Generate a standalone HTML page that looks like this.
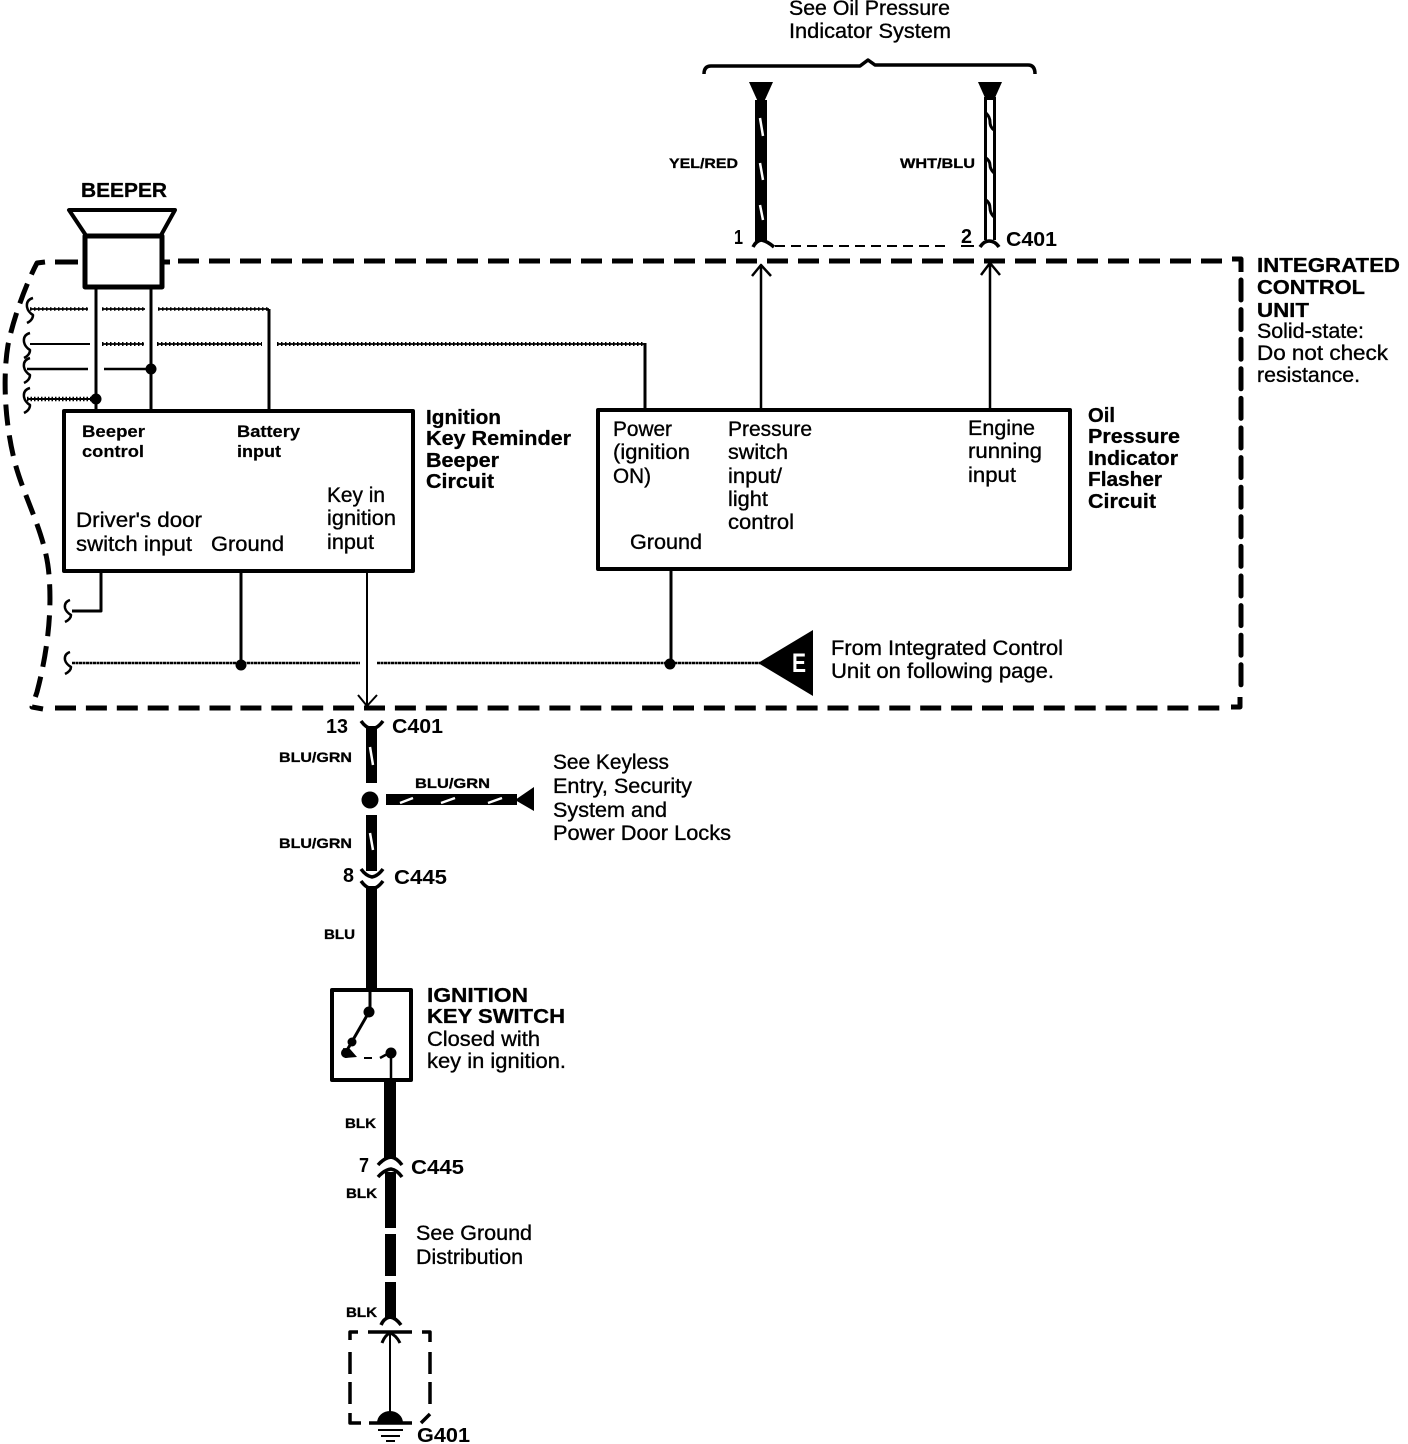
<!DOCTYPE html>
<html><head><meta charset="utf-8"><style>
html,body{margin:0;padding:0;background:#fff}
svg{display:block}
text{font-family:"Liberation Sans",sans-serif;fill:#000}
.n{font-size:21px;stroke:#000;stroke-width:.35}.b{font-size:20px;font-weight:bold;stroke:#000;stroke-width:.3}.s{font-size:17px;font-weight:bold;stroke:#000;stroke-width:.2}.w{font-size:14px;font-weight:bold;stroke:#000;stroke-width:.3}.c{font-size:20px;font-weight:bold}
</style></head><body>
<svg width="1408" height="1444" viewBox="0 0 1408 1444" xmlns="http://www.w3.org/2000/svg">
<rect width="1408" height="1444" fill="#fff"/>
<g fill="none" stroke="#000" stroke-linejoin="round">
<!-- dashed boundary -->
<path d="M178,261 H1232" stroke-width="5" stroke-dasharray="21 10"/>
<path d="M55,262 H78 M163,262 H170" stroke-width="5"/>
<path d="M1232,259 H1241 V272" stroke-width="5"/>
<path d="M1241,280 V690" stroke-width="5" stroke-linecap="round" stroke-dasharray="20 9.6"/>
<path d="M55,708 H1222" stroke-width="5" stroke-dasharray="21 9.9"/>
<path d="M1231,707 H1240 V697" stroke-width="5"/>
<path d="M45,262 L37,263 C28,280 14,315 8,345 C3,375 4,420 15,463 C25,500 46,535 49,575 C52,610 48,650 37,692 L32,707 L43,709" stroke-width="5" stroke-dasharray="21 10"/>
<!-- brace -->
<path d="M704,74 Q704,66 711,66 H860 L868,60 L875,65 H1028 Q1035,65 1035,74" stroke-width="3.5"/>
<!-- beeper -->
<path d="M69,210 H175 L160,237 H87 Z" stroke-width="4"/>
<rect x="85" y="236" width="77" height="51" fill="#fff" stroke-width="5"/>
<path d="M96,287 V411 M151,287 V411" stroke-width="3"/>
<path d="M269,309 V411 M645,343 V409" stroke-width="3"/>
<path d="M30,309 H88 M102,309 H145 M158,309 H269" stroke-width="1.8"/>
<path d="M30,309 H88 M102,309 H145 M158,309 H269" stroke-width="3.5" stroke-dasharray="1.5 2.5"/>
<path d="M30,344 H90" stroke-width="2"/>
<path d="M102,344 H144 M157,344 H262 M277,344 H645" stroke-width="1.8"/>
<path d="M102,344 H144 M157,344 H262 M277,344 H645" stroke-width="4" stroke-dasharray="1.5 2.5"/>
<path d="M27,369 H88 M104,369 H151" stroke-width="2.5"/>
<path d="M27,399 H96" stroke-width="2"/>
<path d="M27,399 H96" stroke-width="4.5" stroke-dasharray="1.5 2"/>
<path d="M33,298 Q26,300 27,307 Q28,312 33,315 Q33,320 27,323" stroke-width="2.5"/>
<path d="M30,333 Q23,335 24,342 Q25,347 30,350 Q30,355 24,358" stroke-width="2.5"/>
<path d="M30,358 Q23,360 24,367 Q25,372 30,375 Q30,380 24,383" stroke-width="2.5"/>
<path d="M30,388 Q23,390 24,397 Q25,402 30,405 Q30,410 24,413" stroke-width="2.5"/>
<!-- boxes -->
<rect x="64" y="411" width="349" height="160" stroke-width="4"/>
<rect x="598" y="410" width="472" height="159" stroke-width="4"/>
<!-- below left box -->
<path d="M101,571 V611 H72" stroke-width="3"/>
<path d="M241,571 V665" stroke-width="3"/>
<path d="M367,571 V705 M358,695 L367,706 L377,695" stroke-width="2"/>
<path d="M72,663 H360 M377,663 H760" stroke-width="2.5" stroke-dasharray="3 .5"/>
<path d="M671,569 V663" stroke-width="3"/>
<path d="M70,600 Q64,602 65,608 Q66,612 71,615 Q71,619 65,622" stroke-width="2.5"/>
<path d="M70,652 Q64,654 65,660 Q66,664 71,667 Q71,671 65,674" stroke-width="2.5"/>
<!-- up arrows -->
<path d="M761,408 V265 M752,276 L761,265 L771,276" stroke-width="2.5"/>
<path d="M990,408 V262 M981,275 L990,263 L1000,275" stroke-width="2.5"/>
<!-- dashed between connectors -->
<path d="M775,246 H950" stroke-width="2" stroke-dasharray="10 6"/>
<path d="M961,246 H974" stroke-width="2"/>
<!-- wire 2 -->
<path d="M985.5,97 V240 M994.5,97 V240" stroke-width="3"/>
<path d="M986,113 Q990,117 990,122 T994,130 M986,158 Q990,161 990,165 T994,173 M986,200 Q990,203 990,208 T994,217" stroke-width="3"/>
<path d="M980,247 Q984,241 989,241 Q995,241 999,247" stroke-width="3.5"/>
<!-- wire 1 flare -->
<path d="M753,247 Q756,241 761,240 Q767,241 774,247" stroke-width="3.5"/>
<!-- connector flares -->
<path d="M361,721 Q366,728 372,729 Q378,728 383,721" stroke-width="3.5"/>
<path d="M361,869 Q366,876 372,877 Q378,876 383,869" stroke-width="3.5"/>
<path d="M361,881 Q366,888 372,889 Q378,888 383,881" stroke-width="3.5"/>
<path d="M378,1165 Q384,1158 391,1157 Q397,1158 402,1165" stroke-width="3.5"/>
<path d="M378,1177 Q384,1170 391,1169 Q397,1170 402,1177" stroke-width="3.5"/>
<path d="M381,1325 Q384,1318 390,1317 Q396,1318 401,1325" stroke-width="3.5"/>
<!-- switch -->
<rect x="332" y="990" width="79" height="90" stroke-width="4"/>
<path d="M370,990 V1012 M369,1012 L346,1052" stroke-width="3"/>
<path d="M391,1053 V1081 M380,1058 L391,1052" stroke-width="2.5"/>
<path d="M364,1058 H372" stroke-width="2"/>
<!-- ground box -->
<path d="M350,1340 V1332 H358 M368,1332 H412 M422,1332 H430 V1342" stroke-width="3.5"/>
<path d="M350,1352 V1412 M430,1352 V1412" stroke-width="3.5" stroke-dasharray="22 8"/>
<path d="M350,1413 V1423 H361 M369,1423 H412 M421,1423 L430,1414" stroke-width="3.5"/>
<path d="M390,1332 V1415" stroke-width="2"/>
<path d="M382,1343 Q385,1335 390,1333 Q396,1335 400,1343" stroke-width="3"/>
<path d="M378,1430 H403 M381,1436 H400 M386,1441 H395" stroke-width="2"/>
</g>
<!-- solid wires -->
<g fill="#000" stroke="none">
<path d="M749,82 H773 L764,102 H758 Z"/>
<rect x="755" y="100" width="12" height="141"/>
<path d="M978,82 H1002 L994,100 H986 Z"/>
<rect x="366" y="726" width="11" height="57"/>
<circle cx="370" cy="800" r="8.5"/>
<rect x="366" y="815" width="11" height="56"/>
<rect x="366" y="886" width="11" height="105"/>
<rect x="386" y="794" width="131" height="11"/>
<path d="M515,800 L534,787 V811 Z"/>
<rect x="384" y="1080" width="12" height="79"/>
<rect x="385" y="1172" width="11" height="56"/>
<rect x="385" y="1234" width="11" height="42"/>
<rect x="385" y="1282" width="11" height="37"/>
<circle cx="96" cy="399" r="5.5"/><circle cx="151" cy="369" r="5.5"/>
<circle cx="241" cy="665" r="5.5"/><circle cx="670" cy="664" r="5.5"/>
<circle cx="369" cy="1012" r="5.5"/><circle cx="352" cy="1042" r="4.5"/>
<path d="M343,1048 L350,1049 L357,1057 L345,1058 Z"/>
<circle cx="346" cy="1053" r="5"/><circle cx="391" cy="1053" r="5.5"/>
<path d="M377,1423 A13,12 0 0 1 403,1423 Z"/>
<path d="M758,663 L813,630 V696 Z"/>
</g>
<!-- white stripes -->
<g stroke="#fff" stroke-width="2.5" fill="none">
<path d="M760,118 L763,136 M760,163 L763,180 M760,205 L763,220"/>
<path d="M370,747 L373,765 M370,833 L373,850"/>
<path d="M400,803 L413,798 M441,803 L455,798 M488,803 L502,798"/>
</g>
<!-- text -->
<text class="n" x="789" y="15" textLength="161" lengthAdjust="spacingAndGlyphs">See Oil Pressure</text>
<text class="n" x="789" y="38" textLength="162" lengthAdjust="spacingAndGlyphs">Indicator System</text>
<text class="w" x="669" y="168" textLength="69" lengthAdjust="spacingAndGlyphs">YEL/RED</text>
<text class="w" x="900" y="168" textLength="75" lengthAdjust="spacingAndGlyphs">WHT/BLU</text>
<text class="c" x="734" y="244" textLength="9" lengthAdjust="spacingAndGlyphs">1</text>
<text class="c" x="961" y="243" textLength="11" lengthAdjust="spacingAndGlyphs">2</text>
<text class="c" x="1006" y="246" textLength="51" lengthAdjust="spacingAndGlyphs">C401</text>
<text class="b" x="81" y="197" textLength="86" lengthAdjust="spacingAndGlyphs">BEEPER</text>
<text class="b" x="1257" y="272" textLength="143" lengthAdjust="spacingAndGlyphs">INTEGRATED</text>
<text class="b" x="1257" y="294" textLength="108" lengthAdjust="spacingAndGlyphs">CONTROL</text>
<text class="b" x="1257" y="317" textLength="52" lengthAdjust="spacingAndGlyphs">UNIT</text>
<text class="n" x="1257" y="338" textLength="107" lengthAdjust="spacingAndGlyphs">Solid-state:</text>
<text class="n" x="1257" y="360" textLength="131" lengthAdjust="spacingAndGlyphs">Do not check</text>
<text class="n" x="1257" y="382" textLength="103" lengthAdjust="spacingAndGlyphs">resistance.</text>
<text class="s" x="82" y="437" textLength="63" lengthAdjust="spacingAndGlyphs">Beeper</text>
<text class="s" x="82" y="457" textLength="62" lengthAdjust="spacingAndGlyphs">control</text>
<text class="s" x="237" y="437" textLength="63" lengthAdjust="spacingAndGlyphs">Battery</text>
<text class="s" x="237" y="457" textLength="44" lengthAdjust="spacingAndGlyphs">input</text>
<text class="n" x="76" y="527" textLength="126" lengthAdjust="spacingAndGlyphs">Driver's door</text>
<text class="n" x="76" y="551" textLength="116" lengthAdjust="spacingAndGlyphs">switch input</text>
<text class="n" x="211" y="551" textLength="73" lengthAdjust="spacingAndGlyphs">Ground</text>
<text class="n" x="327" y="502" textLength="58" lengthAdjust="spacingAndGlyphs">Key in</text>
<text class="n" x="327" y="525" textLength="69" lengthAdjust="spacingAndGlyphs">ignition</text>
<text class="n" x="327" y="549" textLength="47" lengthAdjust="spacingAndGlyphs">input</text>
<text class="b" x="426" y="424" textLength="75" lengthAdjust="spacingAndGlyphs">Ignition</text>
<text class="b" x="426" y="445" textLength="145" lengthAdjust="spacingAndGlyphs">Key Reminder</text>
<text class="b" x="426" y="467" textLength="73" lengthAdjust="spacingAndGlyphs">Beeper</text>
<text class="b" x="426" y="488" textLength="68" lengthAdjust="spacingAndGlyphs">Circuit</text>
<text class="n" x="613" y="436" textLength="59" lengthAdjust="spacingAndGlyphs">Power</text>
<text class="n" x="613" y="459" textLength="77" lengthAdjust="spacingAndGlyphs">(ignition</text>
<text class="n" x="613" y="483" textLength="38" lengthAdjust="spacingAndGlyphs">ON)</text>
<text class="n" x="728" y="436" textLength="84" lengthAdjust="spacingAndGlyphs">Pressure</text>
<text class="n" x="728" y="459" textLength="60" lengthAdjust="spacingAndGlyphs">switch</text>
<text class="n" x="728" y="483" textLength="54" lengthAdjust="spacingAndGlyphs">input/</text>
<text class="n" x="728" y="506" textLength="40" lengthAdjust="spacingAndGlyphs">light</text>
<text class="n" x="728" y="529" textLength="66" lengthAdjust="spacingAndGlyphs">control</text>
<text class="n" x="630" y="549" textLength="72" lengthAdjust="spacingAndGlyphs">Ground</text>
<text class="n" x="968" y="435" textLength="67" lengthAdjust="spacingAndGlyphs">Engine</text>
<text class="n" x="968" y="458" textLength="74" lengthAdjust="spacingAndGlyphs">running</text>
<text class="n" x="968" y="482" textLength="48" lengthAdjust="spacingAndGlyphs">input</text>
<text class="b" x="1088" y="422" textLength="27" lengthAdjust="spacingAndGlyphs">Oil</text>
<text class="b" x="1088" y="443" textLength="92" lengthAdjust="spacingAndGlyphs">Pressure</text>
<text class="b" x="1088" y="465" textLength="90" lengthAdjust="spacingAndGlyphs">Indicator</text>
<text class="b" x="1088" y="486" textLength="74" lengthAdjust="spacingAndGlyphs">Flasher</text>
<text class="b" x="1088" y="508" textLength="68" lengthAdjust="spacingAndGlyphs">Circuit</text>
<text x="792" y="672" font-size="27" font-weight="bold" style="fill:#fff" textLength="14" lengthAdjust="spacingAndGlyphs">E</text>
<text class="n" x="831" y="655" textLength="232" lengthAdjust="spacingAndGlyphs">From Integrated Control</text>
<text class="n" x="831" y="678" textLength="223" lengthAdjust="spacingAndGlyphs">Unit on following page.</text>
<text class="c" x="326" y="733" textLength="22" lengthAdjust="spacingAndGlyphs">13</text>
<text class="c" x="392" y="733" textLength="51" lengthAdjust="spacingAndGlyphs">C401</text>
<text class="w" x="279" y="762" textLength="73" lengthAdjust="spacingAndGlyphs">BLU/GRN</text>
<text class="w" x="415" y="788" textLength="75" lengthAdjust="spacingAndGlyphs">BLU/GRN</text>
<text class="w" x="279" y="848" textLength="73" lengthAdjust="spacingAndGlyphs">BLU/GRN</text>
<text class="n" x="553" y="769" textLength="116" lengthAdjust="spacingAndGlyphs">See Keyless</text>
<text class="n" x="553" y="793" textLength="139" lengthAdjust="spacingAndGlyphs">Entry, Security</text>
<text class="n" x="553" y="817" textLength="114" lengthAdjust="spacingAndGlyphs">System and</text>
<text class="n" x="553" y="840" textLength="178" lengthAdjust="spacingAndGlyphs">Power Door Locks</text>
<text class="c" x="343" y="882" textLength="11" lengthAdjust="spacingAndGlyphs">8</text>
<text class="c" x="394" y="884" textLength="53" lengthAdjust="spacingAndGlyphs">C445</text>
<text class="w" x="324" y="939" textLength="31" lengthAdjust="spacingAndGlyphs">BLU</text>
<text class="b" x="427" y="1002" textLength="101" lengthAdjust="spacingAndGlyphs">IGNITION</text>
<text class="b" x="427" y="1023" textLength="138" lengthAdjust="spacingAndGlyphs">KEY SWITCH</text>
<text class="n" x="427" y="1046" textLength="113" lengthAdjust="spacingAndGlyphs">Closed with</text>
<text class="n" x="427" y="1068" textLength="139" lengthAdjust="spacingAndGlyphs">key in ignition.</text>
<text class="w" x="345" y="1128" textLength="31" lengthAdjust="spacingAndGlyphs">BLK</text>
<text class="c" x="359" y="1172" textLength="10" lengthAdjust="spacingAndGlyphs">7</text>
<text class="c" x="411" y="1174" textLength="53" lengthAdjust="spacingAndGlyphs">C445</text>
<text class="w" x="346" y="1198" textLength="31" lengthAdjust="spacingAndGlyphs">BLK</text>
<text class="n" x="416" y="1240" textLength="116" lengthAdjust="spacingAndGlyphs">See Ground</text>
<text class="n" x="416" y="1264" textLength="107" lengthAdjust="spacingAndGlyphs">Distribution</text>
<text class="w" x="346" y="1317" textLength="31" lengthAdjust="spacingAndGlyphs">BLK</text>
<text class="c" x="417" y="1442" textLength="53" lengthAdjust="spacingAndGlyphs">G401</text>
</svg>
</body></html>
